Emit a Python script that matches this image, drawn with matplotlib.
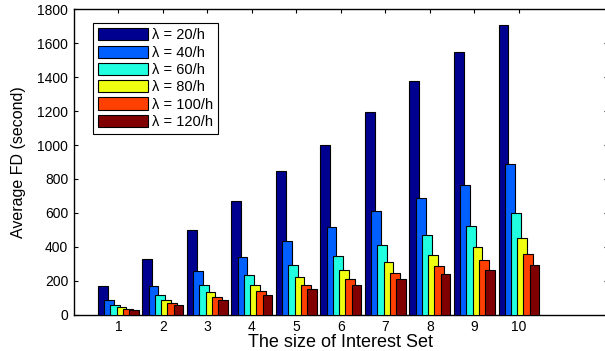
import numpy as np
import matplotlib
matplotlib.use('Agg')
import matplotlib.pyplot as plt

plt.rcParams['font.family'] = ['Liberation Sans', 'DejaVu Sans']

sizes = [1, 2, 3, 4, 5, 6, 7, 8, 9, 10]
labels = ['λ = 20/h', 'λ = 40/h', 'λ = 60/h', 'λ = 80/h', 'λ = 100/h', 'λ = 120/h']
fd_20 = [172, 330, 500, 670, 847, 1000, 1196, 1378, 1545, 1706]
fd_40 = [90, 172, 257, 341, 437, 516, 610, 686, 765, 886]
fd_60 = [59, 116, 175, 233, 292, 345, 410, 469, 526, 598]
fd_80 = [45, 86, 133, 175, 222, 265, 314, 351, 398, 455]
fd_100 = [33, 69, 104, 141, 175, 210, 247, 286, 324, 359]
fd_120 = [27, 59, 88, 118, 153, 175, 212, 241, 265, 296]
series = [fd_20, fd_40, fd_60, fd_80, fd_100, fd_120]
colors = ['#000090', '#0060FF', '#20FFDF', '#EFFF10', '#FF4000', '#800000']

fig = plt.figure(figsize=(6.05, 3.51), dpi=100)
ax = fig.add_axes([0.122, 0.103, 0.883, 0.871])

x = np.array(sizes)
step = 0.14
width = 0.22
for i, (vals, c, lab) in enumerate(zip(series, colors, labels)):
    off = (i - 2.5) * step
    # light grey shadow like the matlab rendering
    ax.bar(x + off + 0.015, vals, width=width, color='#999999', linewidth=0, zorder=2 + 2 * i)
    ax.bar(x + off, vals, width=width, color=c, edgecolor='black', linewidth=0.8,
           label=lab, zorder=3 + 2 * i)

ax.set_xlim(0, 12)
ax.set_ylim(0, 1800)
ax.set_xticks(sizes)
ax.set_yticks(range(0, 1801, 200))
ax.tick_params(direction='in', top=True, right=True, labelsize=10, length=3, pad=4)
ax.set_xlabel('The size of Interest Set', fontsize=13, labelpad=0)
ax.set_ylabel('Average FD (second)', fontsize=11.5, labelpad=8)
for s in ax.spines.values():
    s.set_linewidth(1.0)

leg = ax.legend(loc='upper left', bbox_to_anchor=(0.036, 0.954), borderaxespad=0,
                fontsize=10.5, handlelength=3.4, handleheight=0.9, handletextpad=0.3,
                labelspacing=0.22, borderpad=0.35, fancybox=False,
                edgecolor='black', framealpha=1)
leg.get_frame().set_linewidth(0.8)

fig.savefig('out.png', dpi=100)
